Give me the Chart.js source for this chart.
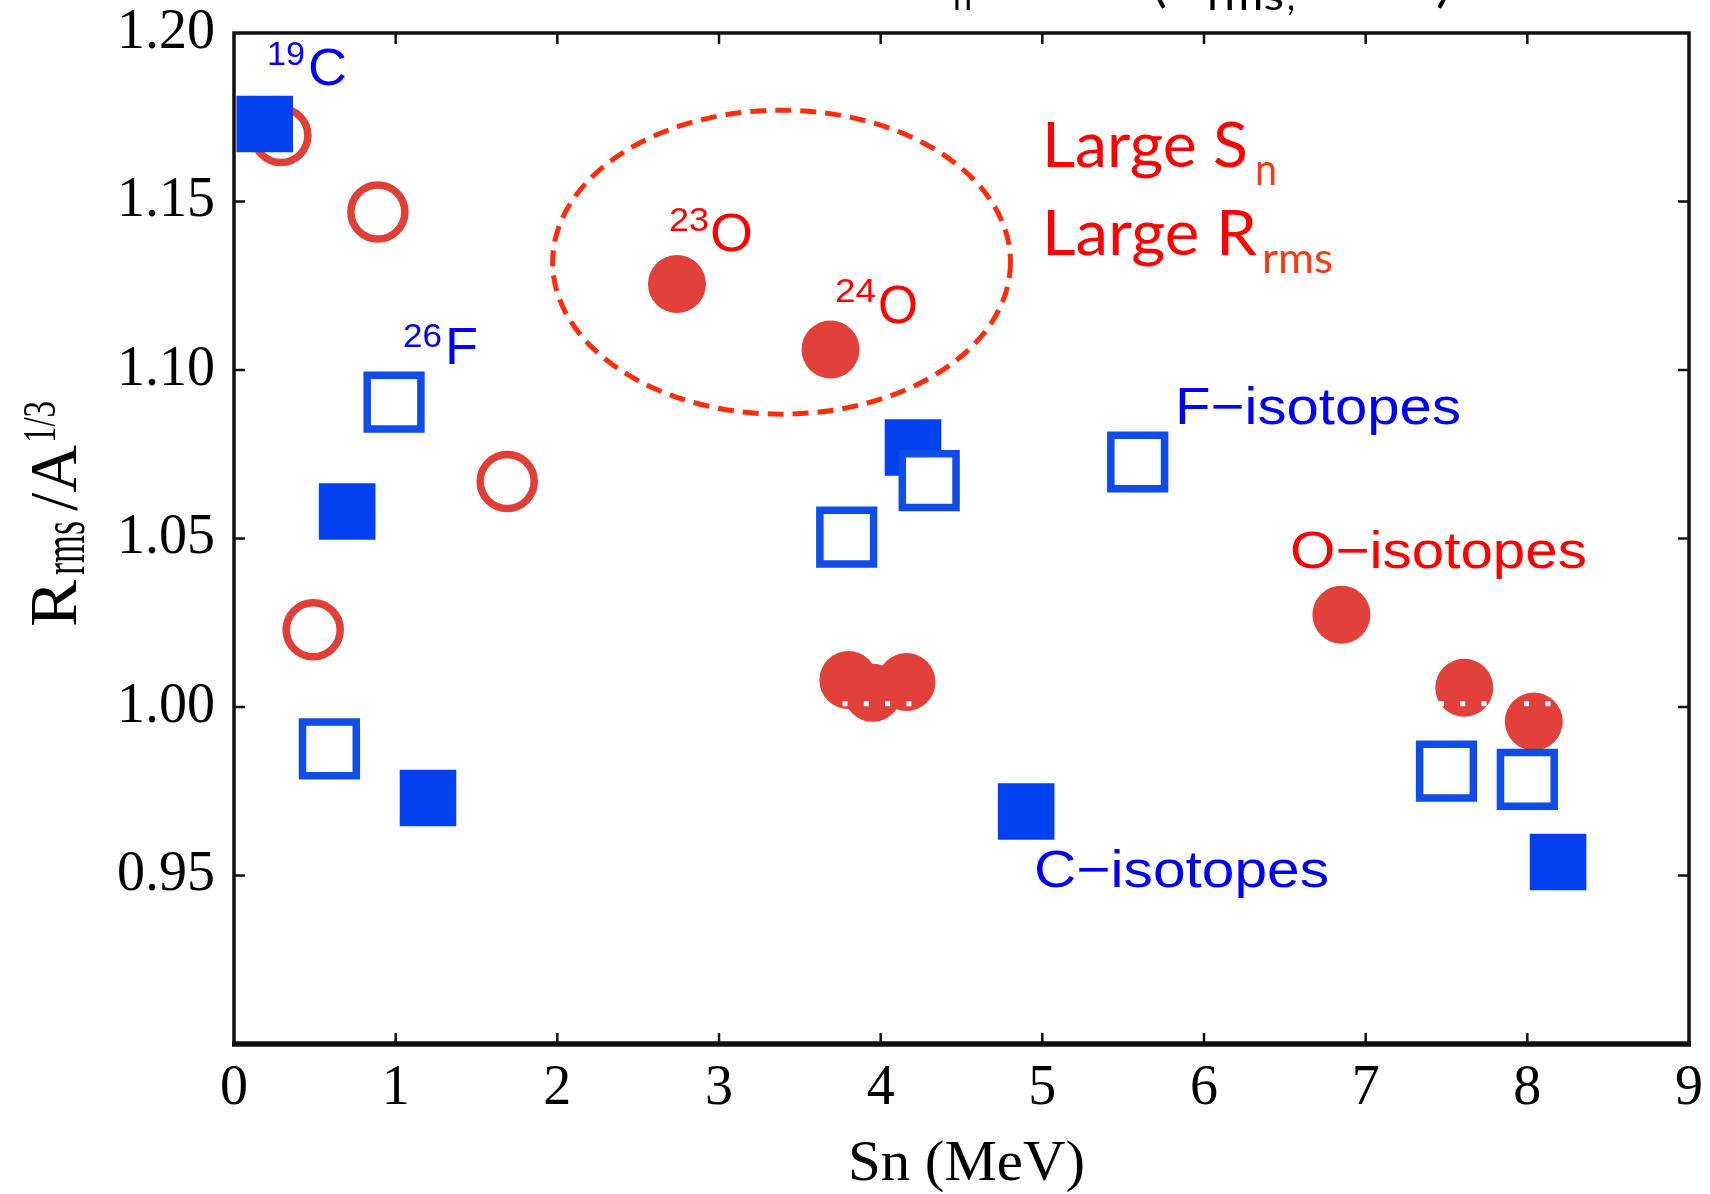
<!DOCTYPE html>
<html>
<head>
<meta charset="utf-8">
<script src="https://cdn.jsdelivr.net/npm/chart.js@4.4.1/dist/chart.umd.min.js"></script>
<style>
  html, body { margin: 0; padding: 0; background: #ffffff; }
  canvas { display: block; }
</style>
</head>
<body>
<canvas id="chart" width="1710" height="1194"></canvas>
<script>
// Carbon isotopes (filled squares)
const cSn = [0.19, 0.70, 1.20, 4.20, 4.90, 8.19];
const cR  = [1.173, 1.058, 0.973, 1.077, 0.969, 0.954];

// Fluorine isotopes (open squares)
const fSn = [0.99, 0.59, 3.79, 4.30, 5.59, 7.50, 8.00];
const fR  = [1.0905, 0.9876, 1.0504, 1.0672, 1.0727, 0.981, 0.9785];

// Oxygen isotopes (filled circles)
const oSn = [2.74, 3.69, 3.80, 4.16, 3.95, 6.85, 7.61, 8.04];
const oR  = [1.1255, 1.1061, 1.008, 1.0074, 1.0042, 1.0274, 1.0057, 0.9957];

// Oxygen isotopes (open circles)
const oOpenSn = [0.29, 0.89, 1.69, 0.49];
const oOpenR  = [1.1696, 1.1469, 1.0669, 1.0229];

// Dotted reference level
const refSn = [0, 9];
const refR  = [1.001, 1.001];

// Axis ticks
const xTickValues = [0, 1, 2, 3, 4, 5, 6, 7, 8, 9];
const xTickLabels = ['0', '1', '2', '3', '4', '5', '6', '7', '8', '9'];
const yTickValues = [0.90, 0.95, 1.00, 1.05, 1.10, 1.15, 1.20];
const yTickLabels = ['', '0.95', '1.00', '1.05', '1.10', '1.15', '1.20'];

// Dashed region around 23O / 24O (centre and half-widths in data units)
const regionCenter = [3.387, 1.132];
const regionHalf = [1.416, 0.0451];

const pts = (xs, ys) => xs.map((x, i) => ({ x: x, y: ys[i] }));

function fitText(ctx, str, x, base, font, color, width, sy) {
  ctx.save();
  ctx.font = font;
  ctx.fillStyle = color;
  ctx.textAlign = 'left';
  ctx.textBaseline = 'alphabetic';
  const m = ctx.measureText(str).width;
  ctx.translate(x, base);
  ctx.scale(width ? width / m : 1, sy || 1);
  ctx.fillText(str, 0, 0);
  ctx.restore();
}

const SANS = '"Liberation Sans", Arial, sans-serif';
const SERIF = '"Liberation Serif", "Times New Roman", serif';
const CAL = 'Lato, "Open Sans", sans-serif';
const BLUE = '#0000f5';
const RED = '#ff0000';

const decorations = {
  id: 'decorations',
  afterDatasetsDraw(chart) {
    const ctx = chart.ctx;
    const a = chart.chartArea;
    const xs = chart.scales.x, ys = chart.scales.y;
    ctx.save();

    // dashed ellipse
    const cx = xs.getPixelForValue(regionCenter[0]);
    const cy = ys.getPixelForValue(regionCenter[1]);
    const rx = xs.getPixelForValue(regionCenter[0] + regionHalf[0]) - cx;
    const ry = cy - ys.getPixelForValue(regionCenter[1] + regionHalf[1]);
    ctx.beginPath();
    ctx.ellipse(cx, cy, rx, ry, 0, 0, Math.PI * 2);
    ctx.strokeStyle = '#ff2d0a';
    ctx.lineWidth = 5;
    ctx.setLineDash([16, 9]);
    ctx.stroke();
    ctx.setLineDash([]);

    // frame
    ctx.strokeStyle = '#111111';
    ctx.lineWidth = 3.5;
    ctx.strokeRect(a.left, a.top, a.right - a.left, a.bottom - a.top);
    ctx.lineWidth = 5.5;
    ctx.beginPath();
    ctx.moveTo(a.left - 2, a.bottom);
    ctx.lineTo(a.right + 2, a.bottom);
    ctx.stroke();

    // inward ticks on all four sides
    const tl = 11;
    ctx.lineWidth = 2.5;
    ctx.beginPath();
    xTickValues.forEach(v => {
      if (v === xTickValues[0] || v === xTickValues[xTickValues.length - 1]) return;
      const px = xs.getPixelForValue(v);
      ctx.moveTo(px, a.bottom); ctx.lineTo(px, a.bottom - tl);
      ctx.moveTo(px, a.top); ctx.lineTo(px, a.top + tl);
    });
    yTickValues.forEach((v, i) => {
      if (i === 0 || i === yTickValues.length - 1) return;
      const py = ys.getPixelForValue(v);
      ctx.moveTo(a.left, py); ctx.lineTo(a.left + tl, py);
      ctx.moveTo(a.right, py); ctx.lineTo(a.right - tl, py);
    });
    ctx.stroke();
    ctx.restore();
  },
  afterDraw(chart) {
    const ctx = chart.ctx;
    ctx.save();

    // isotope labels
    fitText(ctx, '19', 267, 65, '33px ' + SANS, BLUE, 38);
    fitText(ctx, 'C', 308, 85, '52px ' + SANS, BLUE, 39);
    fitText(ctx, '26', 403, 347, '33px ' + SANS, BLUE, 39);
    fitText(ctx, 'F', 445, 364, '52px ' + SANS, BLUE, 33);
    fitText(ctx, '23', 669, 231, '33px ' + SANS, RED, 40);
    fitText(ctx, 'O', 710, 251, '54px ' + SANS, RED, 43);
    fitText(ctx, '24', 835, 302, '33px ' + SANS, RED, 41);
    fitText(ctx, 'O', 878, 323, '54px ' + SANS, RED, 40);

    // group labels
    fitText(ctx, 'F\u2212isotopes', 1175, 424, '52px ' + SANS, BLUE, 286);
    fitText(ctx, 'O\u2212isotopes', 1290, 568, '52px ' + SANS, RED, 297);
    fitText(ctx, 'C\u2212isotopes', 1034, 887, '52px ' + SANS, BLUE, 295);

    // Large S_n / Large R_rms
    fitText(ctx, 'Large S', 1042, 167, '62px ' + CAL, RED, 206);
    fitText(ctx, 'n', 1255, 185, '44px ' + CAL, '#ff3814', 22);
    fitText(ctx, 'Large R', 1042, 255, '62px ' + CAL, RED, 215);
    fitText(ctx, 'rms', 1262, 273, '42px ' + CAL, '#ff3814', 71);

    // heading running off the top edge
    fitText(ctx, 'S', 920, -1, '52px ' + CAL, '#000', 30);
    fitText(ctx, 'n', 953, 10, '34px ' + CAL, '#000', 19);
    fitText(ctx, '(', 1152, 1, '52px ' + CAL, '#000', 15);
    fitText(ctx, 'R', 1172, -1, '52px ' + CAL, '#000', 31);
    fitText(ctx, 'rms', 1207, 10, '40px ' + CAL, '#000', 77);
    fitText(ctx, ',', 1287, 10, '40px ' + CAL, '#000', 8);
    fitText(ctx, 'A', 1330, -1, '52px ' + CAL, '#000', 32);
    fitText(ctx, ')', 1436, 1, '52px ' + CAL, '#000', 15);

    // x axis title
    fitText(ctx, 'Sn (MeV)', 848, 1180, '57px ' + SERIF, '#000', 237);

    // y axis title, rotated
    ctx.save();
    ctx.translate(76, 627);
    ctx.rotate(-Math.PI / 2);
    fitText(ctx, 'R', 0, 0, '68px ' + SERIF, '#000', 47);
    fitText(ctx, 'rms', 52, 8, '36px ' + SERIF, '#000', 54, 1.7);
    fitText(ctx, '/A', 116, 0, '68px ' + SERIF, '#000', 66);
    fitText(ctx, '1/3', 184, -21, '33px ' + SERIF, '#000', 42, 1.38);
    ctx.restore();

    ctx.restore();
  }
};

new Chart(document.getElementById('chart'), {
  type: 'scatter',
  data: {
    datasets: [
      {
        label: 'reference',
        data: pts(refSn, refR),
        showLine: true,
        pointRadius: 0,
        borderColor: '#ffffff',
        borderWidth: 5,
        borderDash: [5, 16.3],
        borderDashOffset: 9.2
      },
      {
        label: 'F isotopes',
        data: pts(fSn, fR),
        pointStyle: 'rect',
        pointRadius: 38,
        borderWidth: 7.5,
        borderColor: '#0f4de6',
        backgroundColor: '#ffffff'
      },
      {
        label: 'C isotopes',
        data: pts(cSn, cR),
        pointStyle: 'rect',
        pointRadius: 40,
        borderWidth: 0,
        borderColor: '#0240f0',
        backgroundColor: '#0240f0'
      },
      {
        label: 'O isotopes',
        data: pts(oSn, oR),
        pointStyle: 'circle',
        pointRadius: 29,
        borderWidth: 0,
        borderColor: '#e2403a',
        backgroundColor: '#e2403a'
      },
      {
        label: 'O isotopes (open)',
        data: pts(oOpenSn, oOpenR),
        pointStyle: 'circle',
        pointRadius: 27,
        borderWidth: 7.5,
        borderColor: '#df3f37',
        backgroundColor: 'rgba(255,255,255,0)'
      }
    ]
  },
  options: {
    responsive: false,
    animation: false,
    devicePixelRatio: 1,
    layout: { autoPadding: false, padding: { top: 33, right: 21, bottom: 0, left: 0 } },
    plugins: { legend: { display: false }, tooltip: { enabled: false } },
    scales: {
      x: {
        type: 'linear',
        min: 0,
        max: 9,
        afterBuildTicks: s => { s.ticks = xTickValues.map(v => ({ value: v })); },
        afterFit: s => { s.height = 150; s.paddingLeft = 0; s.paddingRight = 0; },
        grid: { display: false, drawTicks: false },
        border: { display: false },
        ticks: {
          padding: 12,
          color: '#000',
          font: { family: 'Liberation Serif', size: 56 },
          callback: (v, i) => xTickLabels[i]
        }
      },
      y: {
        type: 'linear',
        min: 0.90,
        max: 1.20,
        afterBuildTicks: s => { s.ticks = yTickValues.map(v => ({ value: v })); },
        afterFit: s => { s.width = 234; s.paddingTop = 0; s.paddingBottom = 0; },
        grid: { display: false, drawTicks: false },
        border: { display: false },
        ticks: {
          padding: 19,
          color: '#000',
          font: { family: 'Liberation Serif', size: 56 },
          callback: (v, i) => yTickLabels[i]
        }
      }
    }
  },
  plugins: [decorations]
});
</script>
</body>
</html>
